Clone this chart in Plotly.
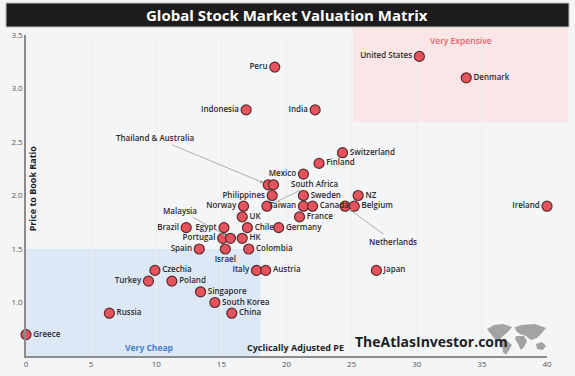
import plotly.graph_objects as go

countries = ["Peru", "Indonesia", "India", "United States", "Denmark", "Switzerland", "Finland",
             "Mexico", "Thailand", "Australia", "Philippines", "Sweden", "NZ", "Norway",
             "South Africa", "Taiwan", "Canada", "Netherlands", "Belgium", "Ireland", "UK", "France",
             "Brazil", "Egypt", "Chile", "Germany", "Portugal", "Malaysia", "HK", "Spain", "Israel",
             "Colombia", "Italy", "Austria", "Japan", "Czechia", "Turkey", "Poland", "Singapore",
             "South Korea", "China", "Russia", "Greece"]
cape = [19.1, 16.9, 22.2, 30.2, 33.8, 24.3, 22.5,
        21.3, 18.6, 19.0, 18.9, 21.3, 25.5, 16.7,
        18.5, 21.3, 22.0, 24.5, 25.2, 40.0, 16.6, 21.0,
        12.3, 15.2, 17.0, 19.4, 15.1, 15.7, 16.6, 13.3, 15.3,
        17.1, 17.7, 18.4, 26.9, 9.9, 9.4, 11.2, 13.4,
        14.5, 15.8, 6.4, 0.0]
pb = [3.2, 2.8, 2.8, 3.3, 3.1, 2.4, 2.3,
      2.2, 2.1, 2.1, 2.0, 2.0, 2.0, 1.9,
      1.9, 1.9, 1.9, 1.9, 1.9, 1.9, 1.8, 1.8,
      1.7, 1.7, 1.7, 1.7, 1.6, 1.6, 1.6, 1.5, 1.5,
      1.5, 1.3, 1.3, 1.3, 1.3, 1.2, 1.2, 1.1,
      1.0, 0.9, 0.9, 0.7]

left_labels = {"Peru", "Indonesia", "India", "United States", "Mexico", "Philippines", "Norway",
               "Taiwan", "Ireland", "Brazil", "Egypt", "Portugal", "Spain", "Italy", "Turkey"}
below_labels = {"Israel"}
arrow_labels = {"Thailand", "Australia", "South Africa", "Netherlands", "Malaysia"}

x_ticks = [0, 5, 10, 15, 20, 25, 30, 35, 40]
y_ticks = [1.0, 1.5, 2.0, 2.5, 3.0, 3.5]
cheap_pe, cheap_pb = 18, 1.5

texts, positions = [], []
for c in countries:
    if c in arrow_labels:
        texts.append("")
        positions.append("middle right")
    else:
        texts.append(c)
        if c in left_labels:
            positions.append("middle left")
        elif c in below_labels:
            positions.append("bottom center")
        else:
            positions.append("middle right")

FONT = "Open Sans"
LBL = dict(family=FONT, size=8, color="#2b2b2b", weight=600)
fig = go.Figure()
fig.add_trace(go.Scatter(
    x=cape, y=pb, mode="markers+text", text=texts, textposition=positions,
    marker=dict(size=10, color="#e5535c", line=dict(color="#5a2a2e", width=1.2)),
    textfont=LBL, cliponaxis=False, hoverinfo="skip", showlegend=False))

def pt(name):
    i = countries.index(name)
    return cape[i], pb[i]

arrows = [("Thailand & Australia", "Thailand", -113, -47),
          ("Malaysia", "Malaysia", -50, -28),
          ("South Africa", "South Africa", 48, -23),
          ("Netherlands", "Netherlands", 48, 35)]
annotations = []
for label, name, ax, ay in arrows:
    x, y = pt(name)
    annotations.append(dict(x=x, y=y, xref="x", yref="y", text=label, ax=ax, ay=ay,
                            showarrow=True, arrowhead=2, arrowsize=0.8, arrowwidth=0.8,
                            arrowcolor="#9a9a9a", standoff=5, font=LBL))

def ann(text, x, y, size, color, weight=700, angle=0):
    return dict(text=text, x=x, y=y, xref="paper", yref="paper", xanchor="center",
                yanchor="middle", textangle=angle, showarrow=False,
                font=dict(family=FONT, size=size, color=color, weight=weight))

annotations += [
    ann("Global Stock Market Valuation Matrix", 0.5, 1.062, 15, "white"),
    ann("Very Expensive", 0.834, 0.984, 8.5, "#e8646c", 600),
    ann("Very Cheap", 0.236, 0.028, 8.5, "#3f7fd0"),
    ann("Cyclically Adjusted PE", 0.518, 0.028, 9, "#1f1f1f"),
    ann("Price to Book Ratio", 0.012, 0.523, 9, "#1f1f1f", angle=-90),
    ann("TheAtlasInvestor.com", 0.779, 0.044, 14, "#1f1f1f"),
]

# page-pixel helpers for decorative layout (plot area spans 26..547 x 35..356)
def px(x):
    return (x - 26) / 521

def py(y):
    return (356 - y) / 321

def poly(points):
    d = "M " + " L ".join(f"{px(a):.4f},{py(b):.4f}" for a, b in points) + " Z"
    return dict(type="path", xref="paper", yref="paper", path=d,
                fillcolor="#a3a3a3", line=dict(width=0), layer="below")

world = [
    [(487, 329), (494, 325), (503, 324), (512, 327), (508, 332), (503, 336), (499, 341), (494, 338), (490, 333)],
    [(501, 341), (507, 341), (512, 345), (509, 350), (506, 355), (503, 352), (502, 346)],
    [(515, 327), (522, 325), (535, 324), (546, 328), (542, 333), (537, 338), (531, 340), (526, 336), (520, 334), (516, 331)],
    [(516, 336), (524, 336), (527, 341), (524, 347), (521, 350), (518, 344), (515, 339)],
    [(536, 344), (542, 342), (546, 346), (543, 350), (537, 349)],
]

shapes = [
    dict(type="rect", xref="paper", yref="paper", x0=px(6), x1=px(569), y0=py(27), y1=py(3),
         fillcolor="#1c1c1c", line=dict(color="#bdbdbd", width=1), layer="below"),
    dict(type="rect", xref="paper", yref="paper", x0=px(353), x1=px(568), y0=py(122), y1=py(28),
         fillcolor="#fbe6e7", line=dict(width=0), layer="below"),
    dict(type="rect", xref="x", yref="y", x0=0, x1=cheap_pe, y0=0.5, y1=cheap_pb,
         fillcolor="#dde8f6", line=dict(width=0), layer="below"),
] + [poly(p) for p in world]

fig.update_layout(
    width=575, height=376,
    margin=dict(l=26, r=28, t=35, b=20),
    paper_bgcolor="#f4f5f7", plot_bgcolor="#f4f5f7",
    xaxis=dict(range=[0, 40], tickvals=x_ticks, ticktext=[str(v) for v in x_ticks],
               showgrid=True, gridcolor="#eceef1", zeroline=False, showline=True,
               linecolor="#8c8c8c", linewidth=1.5, ticks="", automargin=False,
               tickfont=dict(family=FONT, size=8, color="#555")),
    yaxis=dict(range=[0.5, 3.5], tickvals=y_ticks, ticktext=[f"{v:.1f}" for v in y_ticks],
               showgrid=False, zeroline=False, showline=True, automargin=False,
               linecolor="#8c8c8c", linewidth=1.5, ticks="",
               tickfont=dict(family=FONT, size=8, color="#555")),
    shapes=shapes, annotations=annotations,
)

fig.write_html("out.html", config={"displayModeBar": False},
               post_script="document.body.style.margin='0';document.body.style.background='#f4f5f7';")
